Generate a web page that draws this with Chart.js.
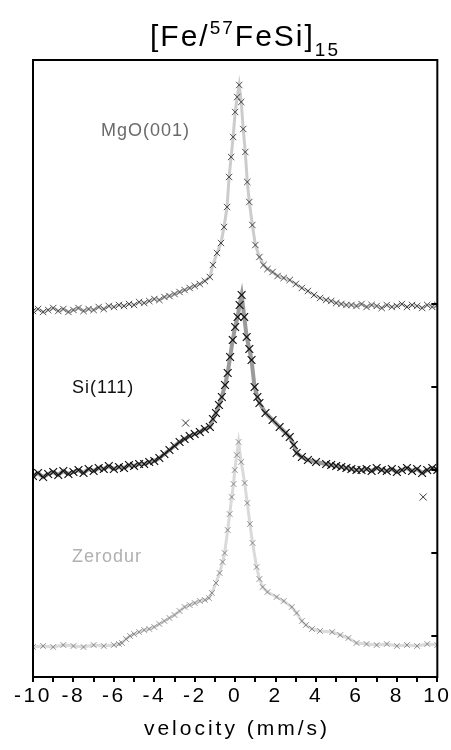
<!DOCTYPE html>
<html>
<head>
<meta charset="utf-8">
<script src="https://cdn.jsdelivr.net/npm/chart.js@4/dist/chart.umd.min.js"></script>
<style>
  html, body { margin: 0; padding: 0; background: #fff; }
  #wrap { width: 451px; height: 750px; }
</style>
</head>
<body>
<div id="wrap"><canvas id="c" width="451" height="750"></canvas></div>
<script>
// ---- data (velocity in mm/s, offset transmission in arbitrary units) ----
const mgoVelocity = [-10,-9.75,-9.5,-9.25,-9,-8.75,-8.5,-8.25,-8,-7.75,-7.5,-7.25,-7,-6.75,-6.5,-6.25,-6,-5.75,-5.5,-5.25,-5,-4.75,-4.5,-4.25,-4,-3.75,-3.5,-3.25,-3,-2.75,-2.5,-2.25,-2,-1.75,-1.5,-1.25,
  -1.1,-0.9,-0.7,-0.55,-0.4,-0.3,-0.2,-0.1,0,0.1,0.2,0.3,0.4,0.5,0.6,0.7,0.85,1.0,1.2,1.4,1.6,1.85,2.1,2.4,2.7,3.0,3.3,3.6,3.9,4.2,4.5,
  4.75,5,5.25,5.5,5.75,6,6.25,6.5,6.75,7,7.25,7.5,7.75,8,8.25,8.5,8.75,9,9.25,9.5,9.75,10];
const mgoCounts = [366,368,365,367,369,366,368,365,367,369,366,368,367,370,368,371,370,372,371,373,372,375,374,376,378,377,380,381,383,385,387,389,391,393,396,400,
  412,424,434,450,470,500,520,540,565,580,592,575,548,525,495,475,452,432,420,412,408,405,401,399,397,393,389,386,382,379,377,
  376,374,373,372,372,371,373,370,372,371,369,372,370,371,373,370,372,371,369,372,370,372];

const siVelocity = [-10,-9.75,-9.5,-9.25,-9,-8.75,-8.5,-8.25,-8,-7.75,-7.5,-7.25,-7,-6.75,-6.5,-6.25,-6,-5.75,-5.5,-5.25,-5,-4.75,-4.5,-4.25,-4,-3.75,-3.5,-3.25,-3,-2.75,-2.5,-2.25,-2,-1.75,-1.5,-1.25,
  -1.1,-0.95,-0.8,-0.66,-0.5,-0.37,-0.25,-0.12,0,0.12,0.22,0.32,0.45,0.57,0.7,0.81,0.96,1.1,1.2,1.5,1.85,2.2,2.5,2.7,2.9,3.04,3.3,3.6,4,4.5,
  4.75,5,5.25,5.5,5.75,6,6.25,6.5,6.75,7,7.25,7.5,7.75,8,8.25,8.5,8.75,9,9.25,9.5,9.75,10];
const siCounts = [201,204,200,203,205,202,206,203,205,207,204,208,206,209,208,211,208,210,209,212,211,213,213,215,216,219,223,227,231,235,238,241,243,245,248,250,
  258,264,272,280,292,304,320,337,350,360,372,382,360,340,328,317,290,280,274,264,257,250,244,240,232,224,220,217,215,213,
  212,211,210,209,208,207,207,208,206,209,207,206,208,205,207,209,206,208,204,207,209,207];
const siStrayVelocity = [-2.45, 9.3];
const siStrayCounts = [254, 180];

const zerVelocity = [-10,-9.5,-9,-8.5,-8,-7.5,-7,-6.5,-6,-5.75,-5.6,-5.4,-5.2,-5,-4.75,-4.5,-4.25,-4,-3.75,-3.5,
  -3.25,-3,-2.75,-2.5,-2.25,-2,-1.75,-1.5,-1.3,-1.15,-0.95,-0.77,-0.62,-0.52,-0.37,-0.27,-0.17,-0.08,-0.02,0.08,
  0.17,0.3,0.47,0.6,0.73,0.86,1.06,1.2,1.36,1.6,2.05,2.4,2.8,3.04,3.3,3.5,3.8,4.2,4.8,5.2,5.6,6,6.5,7,7.5,8,8.5,9,9.5,10];
const zerCounts = [30,31,30,32,31,30,32,31,32,33,34,38,41,43,45,47,48,50,53,56,
  59,62,66,70,72,74,76,77,79,84,94,104,115,124,147,163,180,193,207,222,
  235,215,194,174,153,134,110,98,90,85,80,76,70,64,56,52,48,46,45,42,39,34,33,32,33,31,32,31,33,32];

const xTickValues = [-10,-8,-6,-4,-2,0,2,4,6,8,10];
const yTickValues = [41,124,207,290,373];
const seriesLabels = ['MgO(001)', 'Si(111)', 'Zerodur'];

const pts = (xs, ys) => xs.map((x, i) => ({x: x, y: ys[i]}));

const FONT = '"Liberation Sans", Arial, Helvetica, sans-serif';

const framePlugin = {
  id: 'frame',
  beforeDraw(chart) {
    chart.ctx.letterSpacing = '2.5px';
  },
  afterDraw(chart) {
    const ctx = chart.ctx;
    const a = chart.chartArea;
    const ys = chart.scales.y;
    ctx.save();
    ctx.letterSpacing = '0px';
    ctx.strokeStyle = '#000';
    ctx.lineWidth = 2;
    ctx.strokeRect(a.left, a.top, a.right - a.left, a.bottom - a.top);
    // inward ticks on the right axis
    yTickValues.forEach(v => {
      const py = Math.round(ys.getPixelForValue(v));
      ctx.beginPath();
      ctx.moveTo(a.right - 6, py);
      ctx.lineTo(a.right, py);
      ctx.stroke();
    });
    // series labels
    ctx.font = '18px ' + FONT;
    ctx.letterSpacing = '1px';
    ctx.textBaseline = 'middle';
    ctx.textAlign = 'left';
    ctx.fillStyle = '#6a6a6a';
    ctx.fillText(seriesLabels[0], 101, 131);
    ctx.fillStyle = '#111';
    ctx.fillText(seriesLabels[1], 72, 388);
    ctx.fillStyle = '#b0b0b0';
    ctx.fillText(seriesLabels[2], 72, 557);
    // x axis title
    ctx.font = '21px ' + FONT;
    ctx.letterSpacing = '3px';
    ctx.textAlign = 'center';
    ctx.fillStyle = '#000';
    ctx.fillText('velocity (mm/s)', 237, 729);
    // chart title [Fe/57FeSi]15
    ctx.letterSpacing = '2px';
    ctx.textAlign = 'left';
    ctx.textBaseline = 'alphabetic';
    const big = '30px ' + FONT, small = '19px ' + FONT;
    const parts = [['[Fe/', big, 0], ['57', small, -12], ['FeSi]', big, 0], ['15', small, 10]];
    let total = 0;
    parts.forEach(p => { ctx.font = p[1]; total += ctx.measureText(p[0]).width; });
    let x = 245 - total / 2;
    parts.forEach(p => {
      ctx.font = p[1];
      ctx.fillText(p[0], x, 46 + p[2]);
      x += ctx.measureText(p[0]).width;
    });
    ctx.restore();
  }
};

new Chart(document.getElementById('c'), {
  type: 'line',
  data: {
    datasets: [
      {
        label: seriesLabels[0],
        data: pts(mgoVelocity, mgoCounts),
        borderColor: 'rgba(110,110,110,0.35)',
        borderWidth: 3,
        pointStyle: 'crossRot',
        pointRadius: 4.5,
        pointBorderWidth: 1,
        pointBorderColor: 'rgba(50,50,50,0.85)',
        pointBackgroundColor: 'rgba(50,50,50,0.85)',
        tension: 0
      },
      {
        label: seriesLabels[1],
        data: pts(siVelocity, siCounts),
        borderColor: 'rgba(30,30,30,0.45)',
        borderWidth: 4,
        pointStyle: 'crossRot',
        pointRadius: 5.5,
        pointBorderWidth: 1.2,
        pointBorderColor: '#111',
        pointBackgroundColor: '#111',
        tension: 0
      },
      {
        label: seriesLabels[1] + ' stray',
        data: pts(siStrayVelocity, siStrayCounts),
        showLine: false,
        pointStyle: 'crossRot',
        pointRadius: 5,
        pointBorderWidth: 1,
        pointBorderColor: '#333'
      },
      {
        label: seriesLabels[2],
        data: pts(zerVelocity, zerCounts),
        borderColor: 'rgba(150,150,150,0.35)',
        borderWidth: 3,
        pointStyle: 'crossRot',
        pointRadius: 4,
        pointBorderWidth: 1,
        pointBorderColor: 'rgba(120,120,120,0.8)',
        pointBackgroundColor: 'rgba(120,120,120,0.8)',
        tension: 0
      }
    ]
  },
  options: {
    responsive: false,
    animation: false,
    layout: { padding: { top: 60, left: 33, right: 0, bottom: 0 } },
    plugins: { legend: { display: false }, tooltip: { enabled: false }, title: { display: false } },
    scales: {
      x: {
        type: 'linear',
        position: 'bottom',
        min: -10, max: 10,
        afterFit(s) { s.height = 73; },
        ticks: {
          stepSize: 1,
          autoSkip: false,
          maxRotation: 0,
          padding: 2,
          color: '#000',
          font: { family: FONT, size: 21 },
          callback: v => (xTickValues.includes(v) ? String(v) : '')
        },
        grid: { drawOnChartArea: false, tickLength: 5, lineWidth: 2, color: '#000' },
        border: { display: true, color: '#000', width: 2 }
      },
      y: {
        type: 'linear',
        position: 'right',
        min: 0, max: 617,
        afterFit(s) { s.width = 13; },
        ticks: { display: false },
        grid: { display: false },
        border: { display: false }
      }
    }
  },
  plugins: [framePlugin]
});
</script>
</body>
</html>
